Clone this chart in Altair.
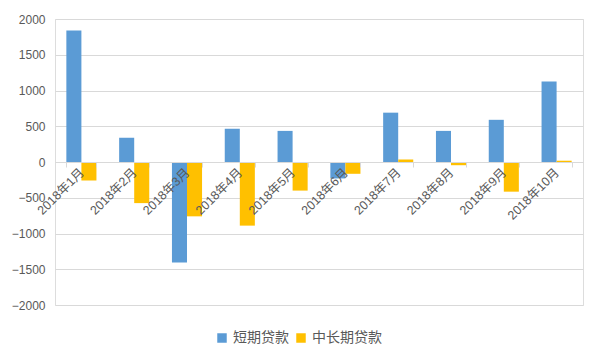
import altair as alt
import pandas as pd

months = ["2018年1月", "2018年2月", "2018年3月", "2018年4月", "2018年5月",
          "2018年6月", "2018年7月", "2018年8月", "2018年9月", "2018年10月"]
series = ["短期贷款", "中长期贷款"]
short_term = [1840, 340, -1405, 465, 435, -230, 690, 435, 590, 1125]
long_term = [-260, -575, -760, -890, -400, -165, 35, -45, -415, 18]
colors = ["#5B9BD5", "#FFC000"]
y_ticks = [-2000, -1500, -1000, -500, 0, 500, 1000, 1500, 2000]

rows = []
for m, s, l in zip(months, short_term, long_term):
    rows.append({"month": m, "series": series[0], "value": s})
    rows.append({"month": m, "series": series[1], "value": l})
df = pd.DataFrame(rows)

FONT = "Liberation Sans, Arial, Noto Sans CJK SC, sans-serif"
W, H = 528, 286

chart = alt.Chart(df).mark_bar().encode(
    x=alt.X("month:N", sort=months, title=None,
            scale=alt.Scale(paddingInner=0.43, paddingOuter=0.215),
            axis=alt.Axis(orient="bottom", offset=-143, labelAngle=-45,
                          labelAlign="right", labelBaseline="middle",
                          tickBand="extent", tickSize=5, tickColor="#D9D9D9",
                          domainColor="#D9D9D9", labelColor="#595959",
                          labelFontSize=12.5, labelFont=FONT, labelPadding=3,
                          grid=False, zindex=1)),
    xOffset=alt.XOffset("series:N", sort=series,
                        scale=alt.Scale(paddingInner=0, paddingOuter=0)),
    y=alt.Y("value:Q", title=None,
            scale=alt.Scale(domain=[-2000, 2000], nice=False),
            axis=alt.Axis(values=y_ticks, domain=False, ticks=False,
                          gridColor="#D9D9D9", labelColor="#595959",
                          labelFontSize=12, labelFont=FONT, labelPadding=10,
                          format="d")),
    color=alt.Color("series:N", sort=series,
                    scale=alt.Scale(domain=series, range=colors),
                    legend=alt.Legend(orient="none", legendX=160, legendY=312,
                                      direction="horizontal", title=None,
                                      symbolType="square", symbolSize=90,
                                      symbolStrokeWidth=0,
                                      labelFont="Noto Sans CJK SC",
                                      labelFontSize=14, labelColor="#595959",
                                      columnPadding=5, symbolOffset=0)),
).properties(
    width=W, height=H,
    autosize=alt.AutoSizeParams(type="none"),
    padding={"left": 47, "top": 11, "right": 10, "bottom": 45},
).configure_view(stroke=None).configure(background="white")

chart.save("out.html", embed_options={"renderer": "svg", "actions": False})
